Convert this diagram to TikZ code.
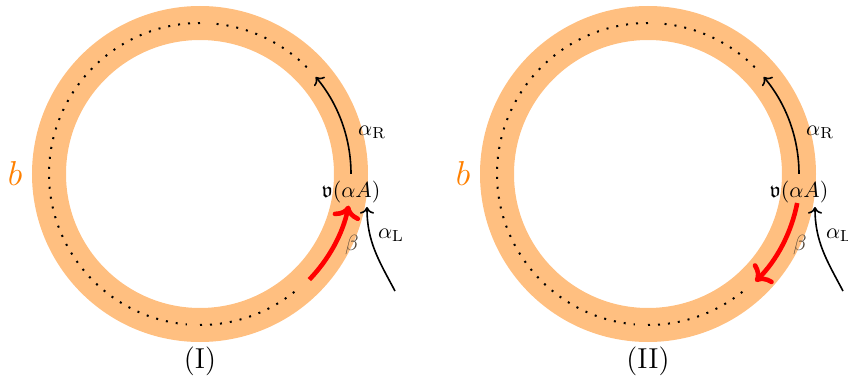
\documentclass[tikz,border=0pt]{standalone}
\usepackage{amssymb}
\usetikzlibrary{arrows.meta,positioning,calc}
\definecolor{ringorange}{HTML}{FFBF80}
\definecolor{labelorange}{HTML}{FF8000}
\definecolor{betabrown}{HTML}{4F4235}

\begin{document}
\begin{tikzpicture}[x=0.5pt,y=0.5pt,
    ring/.style={draw=ringorange,line width=17pt},
    dotring/.style={line width=1pt,dash pattern=on 1pt off 4pt},
    alphaarrow/.style={->,thick},
    betaarrow/.style={->,red,line width=2.3pt},
    every node/.style={font=\fontsize{11}{13}\selectfont}]
\useasboundingbox (0,0) rectangle (848,381);

\foreach \cx/\lab/\nm in {200/I/one,648/II/two} {
    \coordinate (c\nm) at (\cx,207);
    \draw[ring] (c\nm) circle[radius=151];
    \draw[dotring] ($(c\nm)+(45:151)$) arc[start angle=45,end angle=85,radius=151];
    \draw[dotring] ($(c\nm)+(90:151)$) arc[start angle=90,end angle=265,radius=151];
    \draw[dotring] ($(c\nm)+(270:151)$) arc[start angle=270,end angle=310,radius=151];
    \node[text=labelorange,font=\fontsize{16}{18}\selectfont] (b\nm) at (\cx-185,207) {$b$};
    \node[font=\Large] (cap\nm) at (\cx,20) {(\lab)};
    \node (v\nm) at (\cx+151,189) {$\mathfrak{v}(\alpha A)$};
    \node (aR\nm) at (\cx+172,249) {$\alpha_{\mathrm{R}}$};
    \node (aL\nm) at (\cx+191,146) {$\alpha_{\mathrm{L}}$};
    \node[text=betabrown] (beta\nm) at (\cx+152,136) {$\beta$};
    \draw[alphaarrow] (v\nm.north) arc[start angle=0,end angle=40,radius=151];
    \coordinate (aLfoot\nm) at (\cx+195,90);
    \coordinate (aLtip\nm) at (\cx+167,174);
    \draw[alphaarrow] (aLfoot\nm) to[out=118,in=-90] (aLtip\nm);
}

\draw[betaarrow] ($(cone)+(-44:152)$) arc[start angle=-44,end angle=-12,radius=152];
\draw[betaarrow] ($(ctwo)+(-11:152)$) arc[start angle=-11,end angle=-45,radius=152];
\end{tikzpicture}
\end{document}
